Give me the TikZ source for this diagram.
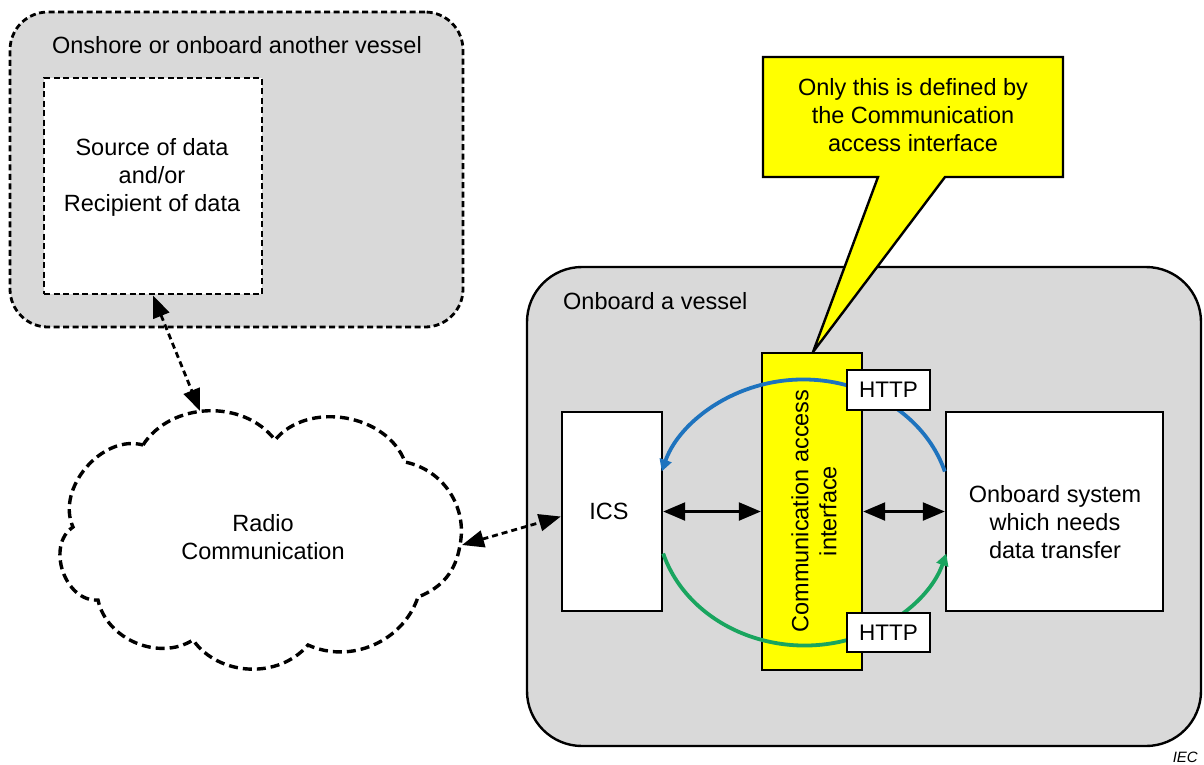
\documentclass[tikz,border=0pt]{standalone}
\usepackage{fontspec}
\setmainfont{Liberation Sans}
\usetikzlibrary{arrows.meta}
\definecolor{panelgray}{RGB}{217,217,217}
\definecolor{notice}{RGB}{255,255,0}
\definecolor{flowblue}{RGB}{30,115,190}
\definecolor{flowgreen}{RGB}{25,165,95}
\tikzset{
  txt/.style={font=\fontsize{23.5}{28}\selectfont, align=center, inner sep=0pt},
  dashline/.style={draw, line width=2.8pt, dash pattern=on 6pt off 3.5pt},
  shorebox/.style={dashline, fill=panelgray, rounded corners=38pt, inner sep=0pt},
  sourcebox/.style={dashline, fill=white, inner sep=0pt},
  vesselbox/.style={draw, line width=2.4pt, fill=panelgray, rounded corners=55pt, inner sep=0pt},
  plainbox/.style={draw, line width=2.4pt, fill=white, inner sep=0pt},
  barbox/.style={draw, line width=2.4pt, fill=notice, inner sep=0pt},
  httpbox/.style={plainbox, font=\fontsize{22.5}{26}\selectfont},
  cloudline/.style={line width=3.4pt, dash pattern=on 9pt off 5pt},
  linkdash/.style={line width=2.8pt, dash pattern=on 6pt off 4pt,
    {Triangle[length=22pt,width=17pt]}-{Triangle[length=22pt,width=17pt]}},
  linksolid/.style={line width=2.4pt,
    {Triangle[length=22pt,width=18pt]}-{Triangle[length=22pt,width=18pt]}},
  flowarc/.style={line width=3.8pt, -{Triangle[length=12pt,width=12pt]}},
}
\begin{document}
\begin{tikzpicture}[x=1pt, y=-1pt]
\useasboundingbox (0,0) rectangle (1204,764);

% ---- remote side: onshore or another vessel
\node[shorebox, minimum width=453pt, minimum height=315pt] (shore) at (236.5,169.5) {};
\node[txt] (shoretitle) at (237,45) {Onshore or onboard another vessel};
\node[sourcebox, minimum width=218pt, minimum height=216pt] (src) at (153,186) {};
\node[txt] (srctext) at (152,177) {Source of data\\and/or\\Recipient of data};

% ---- radio link cloud
\draw[cloudline]
  (143,445) to[bend left=55] (275,440)
            to[bend left=60] (405,462)
            to[bend left=45] (460,545)
            to[bend left=30] (418,597)
            to[bend left=48] (308,645)
            to[bend left=52] (193,640)
            to[bend left=55] (98,600)
            to[bend left=75, looseness=1.1] (73,527)
            to[bend left=65] (143,445);
\node[txt] (radio) at (263,537) {Radio\\Communication};
\coordinate (cloudtop) at (200,411);
\coordinate (cloudright) at (462,545);

% ---- own vessel
\node[vesselbox, minimum width=674pt, minimum height=479pt] (vessel) at (864,506.5) {};
\node[txt, anchor=west] (vesseltitle) at (563,301) {Onboard a vessel};

% callout balloon
\coordinate (tip) at (813,352);
\draw[line width=2.4pt, fill=notice, line join=miter]
  (763,57) -- (1063,57) -- (1063,177) -- (945,177) -- (tip) -- (878,177) -- (763,177) -- cycle;
\node[txt] (note) at (913,115) {Only this is defined by\\the Communication\\access interface};

% interface bar
\node[barbox, minimum width=100pt, minimum height=317pt] (bar) at (812,511.5) {};
\node[txt, rotate=90] (bartext) at (814,511) {Communication access\\interface};

% end systems
\node[plainbox, minimum width=100pt, minimum height=199pt] (ics) at (612,511.5) {};
\node[txt] (icstext) at (609,511) {ICS};
\node[plainbox, minimum width=217pt, minimum height=199pt] (sys) at (1054.5,511.5) {};
\node[txt] (systext) at (1055,522) {Onboard system\\which needs\\data transfer};

% request / response flows
\draw[flowarc, draw=flowblue]
  ([yshift=40pt]sys.west) arc[start angle=17, end angle=163, x radius=148pt, y radius=130pt];
\draw[flowarc, draw=flowgreen]
  ([yshift=-42pt]ics.east) arc[start angle=197, end angle=343, x radius=148pt, y radius=130pt];

\node[httpbox, minimum width=83pt, minimum height=40pt] (http1) at (888.5,390) {HTTP};
\node[httpbox, minimum width=83pt, minimum height=39pt] (http2) at (888.5,632.5) {HTTP};

% data exchange arrows
\draw[linksolid] (ics.east) -- (bar.west);
\draw[linksolid] (bar.east) -- (sys.west);
\draw[linkdash] (src.south) -- (cloudtop);
\draw[linkdash] (cloudright) -- ([yshift=-5pt]ics.west);

\node[font=\fontsize{15}{17}\selectfont\itshape, anchor=east, inner sep=0pt] (iec) at (1198,757) {IEC};
\end{tikzpicture}
\end{document}
